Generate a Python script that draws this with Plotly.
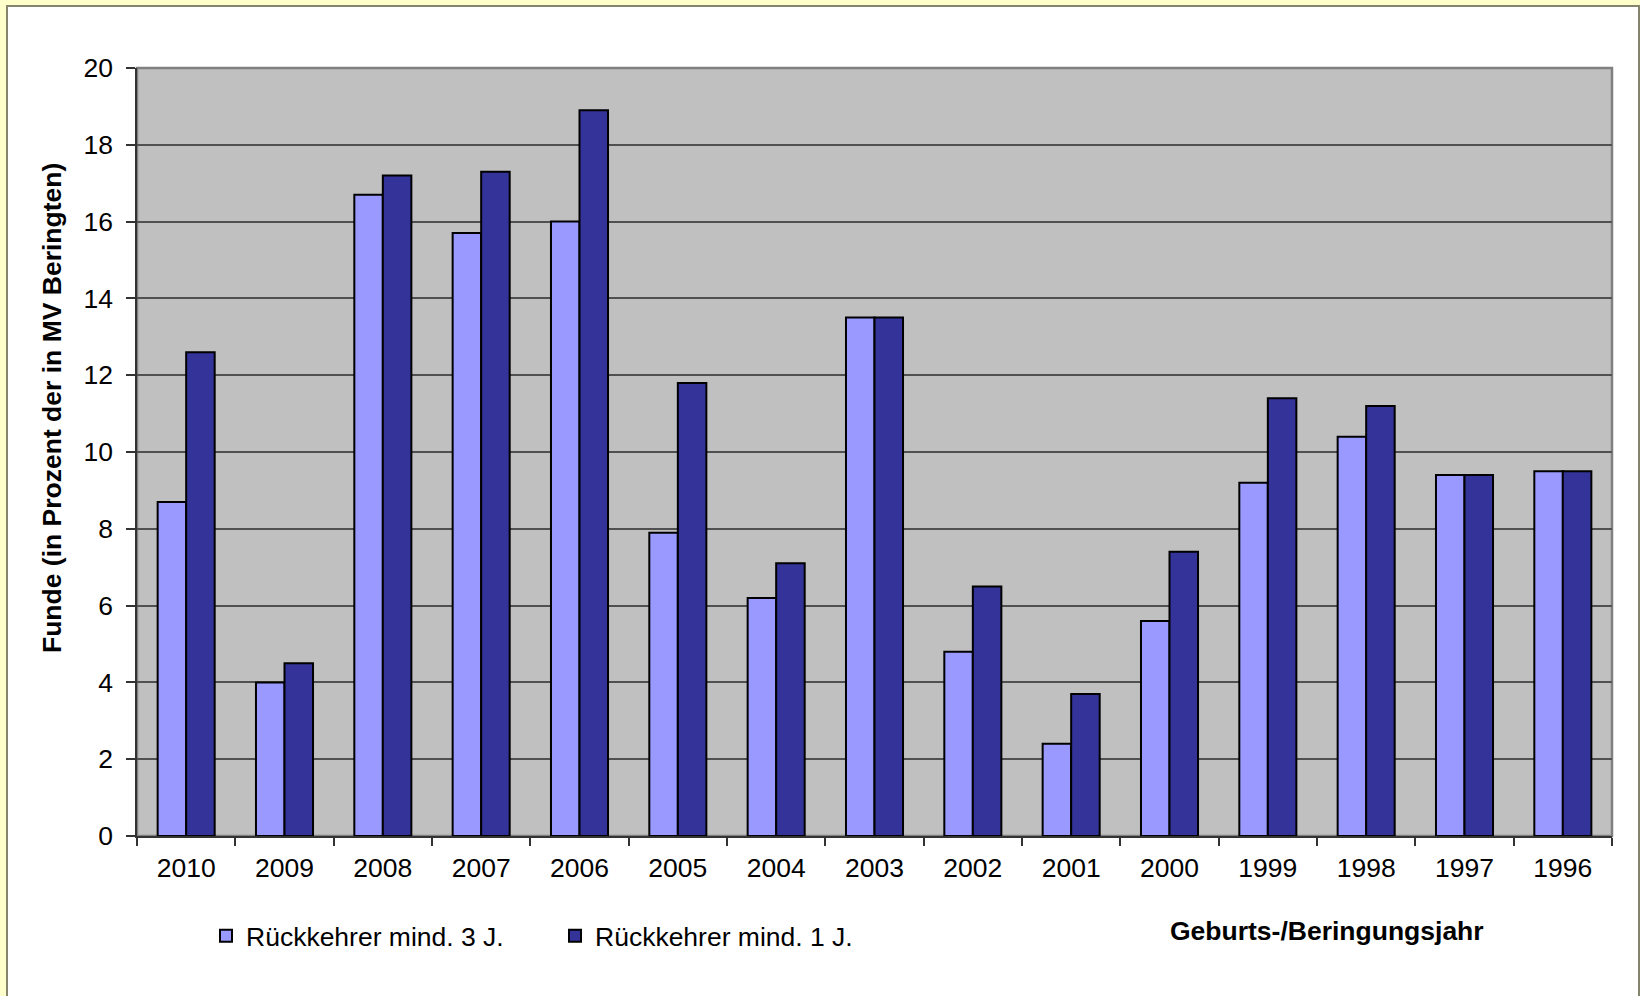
import plotly.graph_objects as go

years = ["2010", "2009", "2008", "2007", "2006", "2005", "2004", "2003",
         "2002", "2001", "2000", "1999", "1998", "1997", "1996"]
rueck_3j = [8.7, 4.0, 16.7, 15.7, 16.0, 7.9, 6.2, 13.5, 4.8, 2.4, 5.6, 9.2, 10.4, 9.4, 9.5]
rueck_1j = [12.6, 4.5, 17.2, 17.3, 18.9, 11.8, 7.1, 13.5, 6.5, 3.7, 7.4, 11.4, 11.2, 9.4, 9.5]
y_ticks = [0, 2, 4, 6, 8, 10, 12, 14, 16, 18, 20]

FONT = "Arial, Liberation Sans, Helvetica, sans-serif"
FS = 26.5

W, H = 1640, 996
L, R, T, B = 137, 28, 68, 160
pw, ph = W - L - R, H - T - B

def px(x):
    return (x - L) / pw

def py(y):
    return (H - B - y) / ph

fig = go.Figure()
fig.add_trace(go.Bar(
    x=years, y=rueck_3j, name="Rückkehrer mind. 3 J.",
    marker=dict(color="#9999FF", line=dict(color="#000000", width=2)),
))
fig.add_trace(go.Bar(
    x=years, y=rueck_1j, name="Rückkehrer mind. 1 J.",
    marker=dict(color="#333399", line=dict(color="#000000", width=2)),
))

fig.update_layout(
    width=W, height=H,
    margin=dict(l=L, r=R, t=T, b=B, pad=0),
    paper_bgcolor="#FFFFCC",
    plot_bgcolor="#C0C0C0",
    barmode="group", bargap=0.42, bargroupgap=0,
    font=dict(family=FONT, size=FS, color="#000000"),
    showlegend=True,
    legend=dict(
        orientation="h", x=px(206), xanchor="left", y=py(936), yanchor="middle",
        font=dict(family=FONT, size=FS, color="#000000"),
        bgcolor="rgba(0,0,0,0)", borderwidth=0,
        entrywidth=304, entrywidthmode="pixels",
        itemwidth=30, traceorder="normal",
    ),
    xaxis=dict(
        type="category", tickson="boundaries",
        ticks="outside", ticklen=8, tickwidth=1.5, tickcolor="#333333",
        showline=True, linecolor="#333333", linewidth=1.5,
        showgrid=False, tickfont=dict(size=FS), ticklabelstandoff=7,
    ),
    yaxis=dict(
        range=[0, 20], tickvals=y_ticks, ticks="outside", ticklen=9,
        tickwidth=1.5, tickcolor="#333333",
        showline=True, linecolor="#333333", linewidth=1.5,
        showgrid=True, gridcolor="#505050", gridwidth=1.5,
        zeroline=False, tickfont=dict(size=FS), ticklabelstandoff=8,
    ),
    shapes=[
        dict(type="rect", xref="paper", yref="paper", layer="below",
             x0=px(7), x1=px(1639), y0=py(1010), y1=py(6),
             fillcolor="#FFFFFF", line=dict(color="#85856e", width=2)),
        dict(type="rect", xref="paper", yref="paper", layer="below",
             x0=0, x1=1, y0=0, y1=1,
             fillcolor="#C0C0C0", line=dict(color="#808080", width=2.5)),
    ],
    annotations=[
        dict(text="<b>Funde (in Prozent der in MV Beringten)</b>",
             xref="paper", yref="paper", x=px(52), y=py(408),
             xanchor="center", yanchor="middle", textangle=-90,
             showarrow=False, font=dict(size=FS)),
        dict(text="<b>Geburts-/Beringungsjahr</b>",
             xref="paper", yref="paper", x=px(1327), y=py(931),
             xanchor="center", yanchor="middle",
             showarrow=False, font=dict(size=FS)),
    ],
)

fig.write_html(
    "out.html",
    config={"displayModeBar": False},
    post_script="document.body.style.margin='0';document.body.style.padding='0';"
                "document.body.style.overflow='hidden';",
)
